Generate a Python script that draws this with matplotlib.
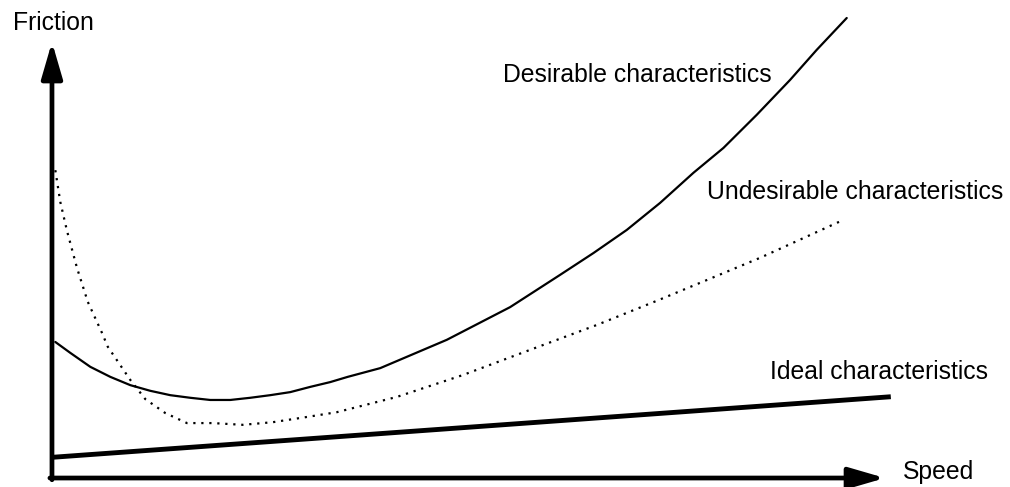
import matplotlib.pyplot as plt

plt.rcParams['font.family'] = ['Liberation Sans', 'DejaVu Sans']

# speed / friction in arbitrary units, both axes run 0..100
desirable_speed = [0.4, 2.2, 4.6, 7.0, 9.4, 11.8, 14.2, 16.6, 19.0, 21.4, 23.8,
                   26.2, 28.6, 31.0, 33.4, 35.5, 39.4, 47.4, 55.0, 61.0, 65.0,
                   69.0, 73.0, 77.0, 80.6, 84.6, 88.6, 91.8, 95.4]
desirable_friction = [31.2, 28.7, 25.5, 23.2, 21.3, 20.0, 19.0, 18.4, 17.9, 17.9,
                      18.4, 19.0, 19.7, 20.9, 22.0, 23.2, 25.2, 31.7, 39.2, 46.6,
                      51.6, 56.9, 63.1, 70.0, 75.7, 83.3, 91.3, 98.2, 105.5]

undesirable_speed = [0.4, 1.0, 1.8, 3.0, 4.3, 6.0, 6.7, 9.4, 11.2, 13.6, 16.2,
                     19.3, 22.9, 26.5, 30.6, 34.2, 41.4, 49.3, 57.4, 65.4, 72.8,
                     78.6, 85.0, 95.0]
undesirable_friction = [70.6, 63.3, 56.7, 48.2, 40.4, 33.3, 30.1, 22.5, 18.1, 14.9,
                        12.6, 12.6, 12.2, 12.8, 14.0, 15.1, 18.6, 23.6, 29.4, 35.1,
                        40.8, 45.4, 50.5, 59.2]

ideal_speed = [0.4, 100.4]
ideal_friction = [4.8, 18.6]

fig = plt.figure(figsize=(10.1, 4.87), dpi=100)
ax = fig.add_axes([0, 0, 1, 1])
ax.set_xlim(-6.24, 115.0)
ax.set_ylim(-2.06, 109.63)
ax.axis('off')

# axes with arrow heads
arrow = dict(arrowstyle='-|>,head_length=1.1,head_width=0.32', lw=3.4,
             color='black', mutation_scale=20, shrinkA=0, shrinkB=0)
ax.annotate('', xy=(0, 100), xytext=(0, -0.4), arrowprops=arrow)
ax.annotate('', xy=(100, 0), xytext=(-0.25, 0), arrowprops=arrow)

ax.plot(desirable_speed, desirable_friction, color='black', lw=1.6,
        solid_capstyle='round', solid_joinstyle='round')
ax.plot(undesirable_speed, undesirable_friction, color='black', lw=1.6,
        linestyle=(0, (1, 2.6)))
ax.plot(ideal_speed, ideal_friction, color='black', lw=3.5)

fs = 17.8
ax.text(13 / 1010, 1 - 30 / 487, 'Friction', transform=ax.transAxes,
        fontsize=fs, va='baseline', ha='left')
ax.text(903 / 1010, 1 - 479 / 487, 'Speed', transform=ax.transAxes,
        fontsize=fs, va='baseline', ha='left')
ax.text(503 / 1010, 1 - 82 / 487, 'Desirable characteristics',
        transform=ax.transAxes, fontsize=fs, va='baseline', ha='left')
ax.text(707 / 1010, 1 - 199 / 487, 'Undesirable characteristics',
        transform=ax.transAxes, fontsize=fs, va='baseline', ha='left')
ax.text(770 / 1010, 1 - 379 / 487, 'Ideal characteristics',
        transform=ax.transAxes, fontsize=fs, va='baseline', ha='left')

fig.savefig('out.png', dpi=100)
